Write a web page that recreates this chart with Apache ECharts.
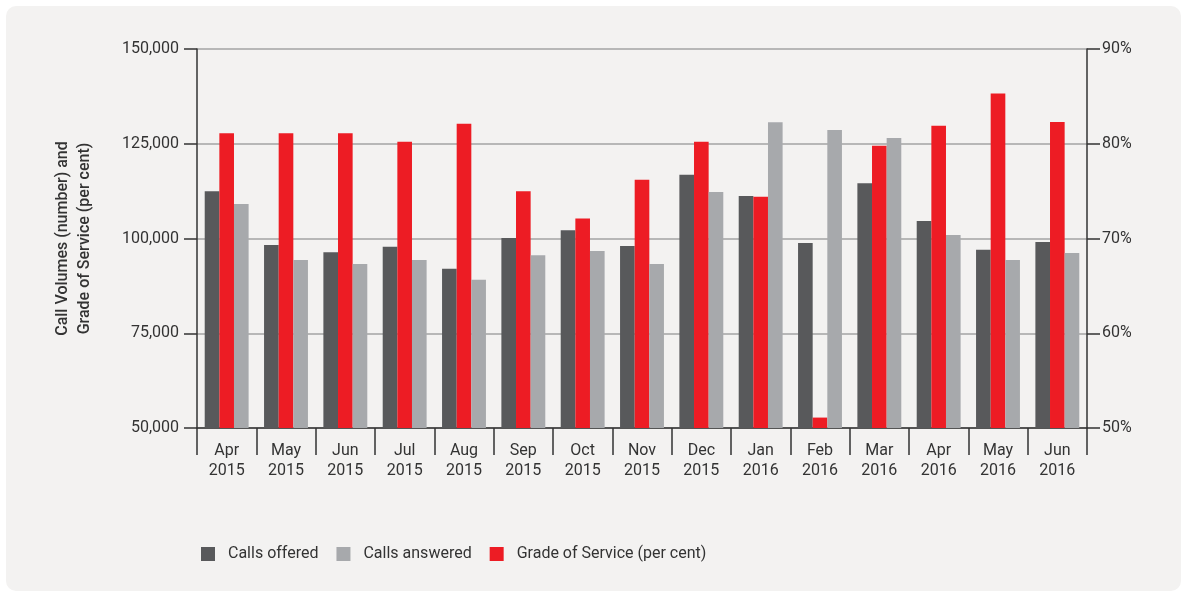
<!DOCTYPE html>
<html>
<head>
<meta charset="utf-8">
<script src="https://cdn.jsdelivr.net/npm/echarts@6/dist/echarts.min.js"></script>
<style>
  html, body { margin: 0; padding: 0; background: #fff; }
  #panel { position: absolute; left: 6px; top: 6px; width: 1175px; height: 585px; background: #f3f2f1; border-radius: 10px; }
  #chart { position: absolute; left: 0; top: 0; width: 1181px; height: 591px; }
</style>
</head>
<body>
<div id="panel"></div>
<div id="chart"></div>
<script>
const months = ['Apr\n2015', 'May\n2015', 'Jun\n2015', 'Jul\n2015', 'Aug\n2015', 'Sep\n2015', 'Oct\n2015', 'Nov\n2015',
  'Dec\n2015', 'Jan\n2016', 'Feb\n2016', 'Mar\n2016', 'Apr\n2016', 'May\n2016', 'Jun\n2016'];
const callsOffered = [112500, 98300, 96400, 97800, 92000, 100100, 102200, 98000, 116800, 111200, 98800, 114600, 104600, 97000, 99100];
const callsAnswered = [109100, 94300, 93300, 94300, 89100, 95600, 96700, 93300, 112300, 130700, 128600, 126500, 100900, 94300, 96200];
const gradeOfService = [81.1, 81.1, 81.1, 80.2, 82.1, 75.0, 72.1, 76.2, 80.2, 74.4, 51.1, 79.8, 81.9, 85.3, 82.3];

const txt = '#333333';
const font = 'Roboto';

const chart = echarts.init(document.getElementById('chart'));
chart.setOption({
  animation: false,
  textStyle: { fontFamily: font },
  grid: { left: 197, right: 94, top: 49, bottom: 163, containLabel: false },
  legend: {
    left: 196, top: 541,
    itemWidth: 14, itemHeight: 14, itemGap: 18,
    icon: 'rect',
    textStyle: { fontSize: 16, color: txt, fontFamily: font, padding: [0, 0, 0, 8] },
    data: ['Calls offered', 'Calls answered', 'Grade of Service (per cent)']
  },
  xAxis: {
    type: 'category',
    data: months,
    axisLine: { lineStyle: { color: '#333', width: 1.5 } },
    axisTick: { show: true, length: 27, lineStyle: { color: '#333', width: 1.5 } },
    axisLabel: { color: txt, fontSize: 16, lineHeight: 20, margin: 13, interval: 0 }
  },
  yAxis: [{
    type: 'value',
    min: 50000, max: 150000, interval: 25000,
    name: 'Call Volumes (number) and\nGrade of Service (per cent)',
    nameLocation: 'middle', nameGap: 101, nameRotate: 90,
    nameTextStyle: { color: txt, fontSize: 16, lineHeight: 22, fontWeight: 500 },
    axisLine: { show: true, lineStyle: { color: '#333', width: 1.5 } },
    axisTick: { show: true, length: 13, lineStyle: { color: '#333', width: 1.5 } },
    axisLabel: { color: txt, fontSize: 16, margin: 18, formatter: v => v.toLocaleString('en-US') },
    splitLine: { show: true, lineStyle: { color: '#a3a3a3', width: 1.5 } }
  }, {
    type: 'value',
    min: 50, max: 90, interval: 10,
    axisLine: { show: true, lineStyle: { color: '#333', width: 1.5 } },
    axisTick: { show: true, length: 13, lineStyle: { color: '#333', width: 1.5 } },
    axisLabel: { color: txt, fontSize: 16, margin: 15, formatter: '{value}%' },
    splitLine: { show: false }
  }],
  series: [{
    name: 'Calls offered',
    type: 'bar',
    yAxisIndex: 0,
    data: callsOffered,
    itemStyle: { color: '#58595b' },
    barGap: '0%',
    barCategoryGap: '26%'
  }, {
    name: 'Grade of Service (per cent)',
    type: 'bar',
    yAxisIndex: 1,
    data: gradeOfService,
    itemStyle: { color: '#ed1c24' },
    barGap: '0%',
    barCategoryGap: '26%'
  }, {
    name: 'Calls answered',
    type: 'bar',
    yAxisIndex: 0,
    data: callsAnswered,
    itemStyle: { color: '#a7a9ac' },
    barGap: '0%',
    barCategoryGap: '26%'
  }]
});
</script>
</body>
</html>
